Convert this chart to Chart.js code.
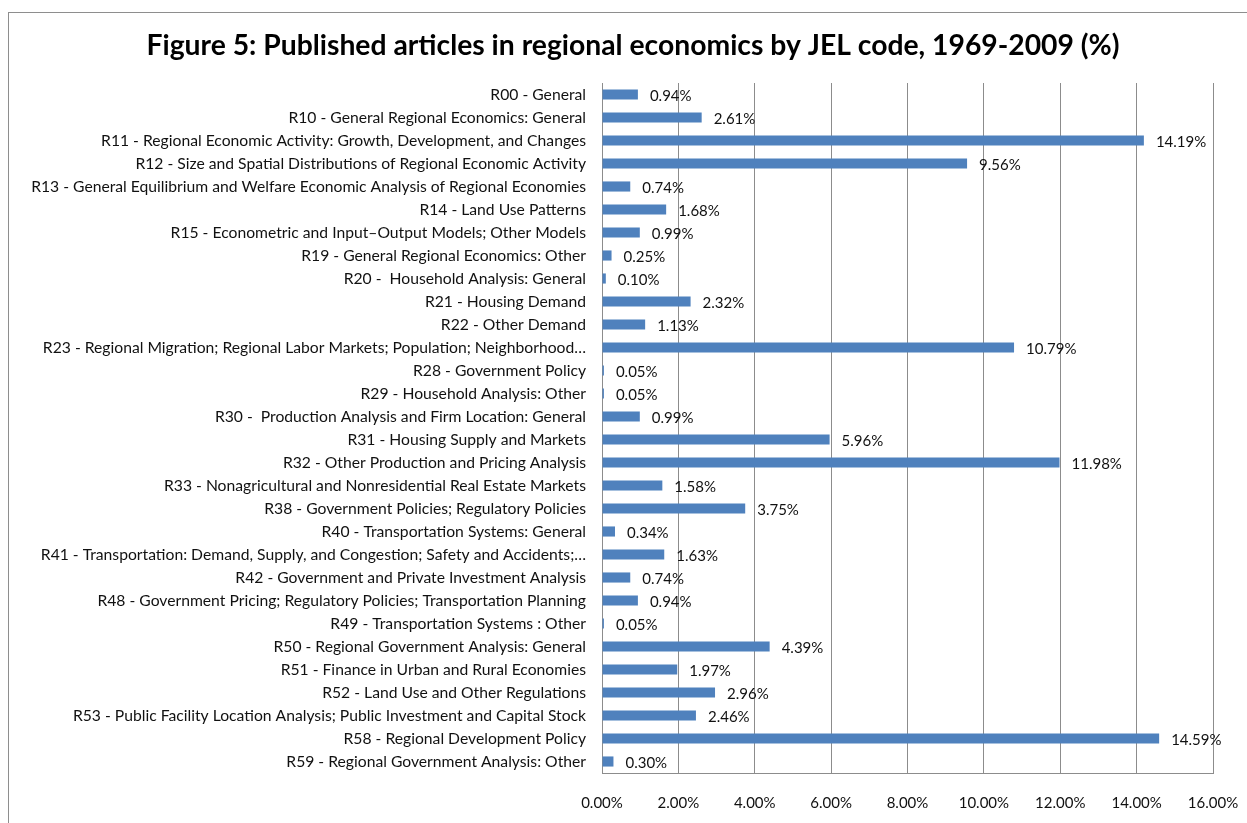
<!DOCTYPE html>
<html>
<head>
<meta charset="utf-8">
<script src="https://cdn.jsdelivr.net/npm/chart.js@4/dist/chart.umd.min.js"></script>
<style>
  html, body { margin: 0; padding: 0; background: #fff; overflow: hidden; }
  #wrap { position: relative; width: 1247px; height: 823px; }
  #frame { position: absolute; left: 8px; top: 12px; width: 1300px; height: 900px; border: 1px solid #8e8e8e; box-sizing: border-box; }
  canvas { position: absolute; left: 0; top: 0; }
</style>
</head>
<body>
<div id="wrap">
  <div id="frame"></div>
  <canvas id="c" width="1247" height="823"></canvas>
</div>
<script>
const titleText = "Figure 5: Published articles in regional economics by JEL code, 1969-2009 (%)";

const categories = [
  "R00 - General",
  "R10 - General Regional Economics: General",
  "R11 - Regional Economic Activity: Growth, Development, and Changes",
  "R12 - Size and Spatial Distributions of Regional Economic Activity",
  "R13 - General Equilibrium and Welfare Economic Analysis of Regional Economies",
  "R14 - Land Use Patterns",
  "R15 - Econometric and Input\u2013Output Models; Other Models",
  "R19 - General Regional Economics: Other",
  "R20 -  Household Analysis: General",
  "R21 - Housing Demand",
  "R22 - Other Demand",
  "R23 - Regional Migration; Regional Labor Markets; Population; Neighborhood\u2026",
  "R28 - Government Policy",
  "R29 - Household Analysis: Other",
  "R30 -  Production Analysis and Firm Location: General",
  "R31 - Housing Supply and Markets",
  "R32 - Other Production and Pricing Analysis",
  "R33 - Nonagricultural and Nonresidential Real Estate Markets",
  "R38 - Government Policies; Regulatory Policies",
  "R40 - Transportation Systems: General",
  "R41 - Transportation: Demand, Supply, and Congestion; Safety and Accidents;\u2026",
  "R42 - Government and Private Investment Analysis",
  "R48 - Government Pricing; Regulatory Policies; Transportation Planning",
  "R49 - Transportation Systems : Other",
  "R50 - Regional Government Analysis: General",
  "R51 - Finance in Urban and Rural Economies",
  "R52 - Land Use and Other Regulations",
  "R53 - Public Facility Location Analysis; Public Investment and Capital Stock",
  "R58 - Regional Development Policy",
  "R59 - Regional Government Analysis: Other"
];

const shares = [
  0.94, 2.61, 14.19, 9.56, 0.74, 1.68, 0.99, 0.25, 0.10, 2.32,
  1.13, 10.79, 0.05, 0.05, 0.99, 5.96, 11.98, 1.58, 3.75, 0.34,
  1.63, 0.74, 0.94, 0.05, 4.39, 1.97, 2.96, 2.46, 14.59, 0.30
];

const xTicks = [0, 2, 4, 6, 8, 10, 12, 14, 16];

const FONT = "Lato, 'Liberation Sans', sans-serif";

const titleAndLabels = {
  id: 'titleAndLabels',
  afterDatasetsDraw(chart) {
    const ctx = chart.ctx;
    const meta = chart.getDatasetMeta(0);
    ctx.save();
    ctx.font = "15px " + FONT;
    ctx.fillStyle = "#111";
    ctx.textAlign = "left";
    ctx.textBaseline = "middle";
    meta.data.forEach((bar, i) => {
      ctx.fillText(shares[i].toFixed(2) + "%", bar.x + 12, bar.y + 2);
    });
    ctx.font = "bold 28.3px " + FONT;
    ctx.fillStyle = "#000";
    ctx.textAlign = "center";
    ctx.fillText(titleText, 633, 46);
    ctx.restore();
  }
};

new Chart(document.getElementById('c'), {
  type: 'bar',
  data: {
    labels: categories,
    datasets: [{
      data: shares,
      backgroundColor: '#4F81BD',
      borderWidth: 0,
      barPercentage: 0.44,
      categoryPercentage: 1.0
    }]
  },
  options: {
    indexAxis: 'y',
    responsive: false,
    animation: false,
    layout: { padding: { left: 18, right: 34, top: 83, bottom: 0 } },
    plugins: {
      legend: { display: false },
      tooltip: { enabled: false },
      title: { display: false }
    },
    scales: {
      x: {
        min: 0,
        max: 16,
        afterBuildTicks(scale) { scale.ticks = xTicks.map(v => ({ value: v })); },
        afterFit(scale) { scale.height = 50; scale.paddingLeft = 0; scale.paddingRight = 0; },
        grid: { color: '#8c8c8c', lineWidth: 1, drawTicks: false },
        border: { display: true, color: '#8c8c8c', width: 1 },
        ticks: {
          padding: 21,
          color: '#111',
          maxRotation: 0,
          font: { family: FONT, size: 15 },
          callback: (v) => Number(v).toFixed(2) + '%'
        }
      },
      y: {
        afterFit(scale) { scale.width = 584; scale.paddingTop = 0; scale.paddingBottom = 0; },
        grid: { display: false, drawTicks: false },
        border: { display: true, color: '#8c8c8c', width: 1 },
        ticks: {
          padding: 16,
          autoSkip: false,
          color: '#111',
          font: { family: FONT, size: 15.7 }
        }
      }
    }
  },
  plugins: [titleAndLabels]
});
</script>
</body>
</html>
